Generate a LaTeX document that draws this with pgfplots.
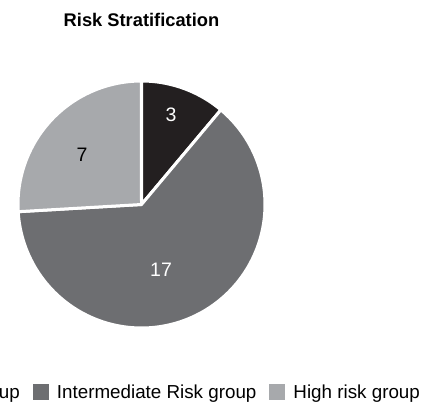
\documentclass[border=0pt]{standalone}
\usepackage{fontspec}
\setmainfont{Liberation Sans}
\usepackage{pgfplots}
\pgfplotsset{compat=1.18}
\definecolor{cLow}{HTML}{231F20}
\definecolor{cMid}{HTML}{6D6E71}
\definecolor{cHigh}{HTML}{A7A9AC}
\begin{document}
\begin{tikzpicture}
\path[use as bounding box, clip] (0pt,0pt) rectangle (428pt,402pt);
% counts
\pgfmathsetmacro\nLow{3}
\pgfmathsetmacro\nMid{17}
\pgfmathsetmacro\nHigh{7}
\pgfmathsetmacro\tot{\nLow+\nMid+\nHigh}
\pgfmathsetmacro\aA{90}
\pgfmathsetmacro\aB{\aA-\nLow/\tot*360}
\pgfmathsetmacro\aC{\aB-\nMid/\tot*360}
\pgfmathsetmacro\aD{\aC-\nHigh/\tot*360}
\begin{axis}[
  at={(141.5pt,197.5pt)}, anchor=origin,
  width=247pt, height=247pt, scale only axis,
  xmin=-1, xmax=1, ymin=-1, ymax=1,
  hide axis, clip=false,
  legend columns=3,
  legend style={draw=none, fill=none, font=\fontsize{18.8}{21}\selectfont,
    at={(1.628,-0.259)}, anchor=east,
    nodes={inner sep=0pt},
    /tikz/every odd column/.style={column sep=8pt},
    /tikz/every even column/.style={column sep=13pt},
    inner sep=0pt},
  legend image code/.code={\path[#1, draw=none] (0pt,-8pt) rectangle (16pt,8pt);},
]
\addplot[fill=cLow, draw=white, line width=3pt, line join=round, domain=\aB:\aA, samples=40, variable=\t]
  ({cos(\t)},{sin(\t)}) -- (axis cs:0,0) -- cycle;
\addlegendentry{Low risk group}
\addplot[fill=cMid, draw=white, line width=3pt, line join=round, domain=\aC:\aB, samples=120, variable=\t]
  ({cos(\t)},{sin(\t)}) -- (axis cs:0,0) -- cycle;
\addlegendentry{Intermediate Risk group}
\addplot[fill=cHigh, draw=white, line width=3pt, line join=round, domain=\aD:\aC, samples=60, variable=\t]
  ({cos(\t)},{sin(\t)}) -- (axis cs:0,0) -- cycle;
\addlegendentry{High risk group}
\node[white, font=\fontsize{19.5}{22}\selectfont] at (axis cs:0.239,0.729) {3};
\node[white, font=\fontsize{19.5}{22}\selectfont] at (axis cs:0.158,-0.530) {17};
\node[black, font=\fontsize{19.5}{22}\selectfont] at (axis cs:-0.482,0.401) {7};
\end{axis}
\node[font=\bfseries\fontsize{18.3}{21}\selectfont, anchor=base] at (141.5pt,375pt) {Risk Stratification};
\end{tikzpicture}
\end{document}
